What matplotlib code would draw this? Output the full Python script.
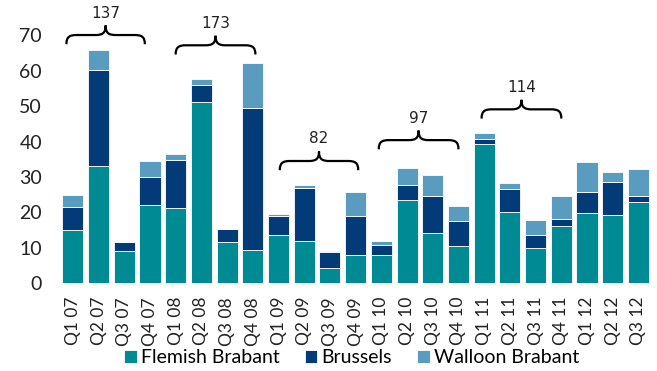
import matplotlib
matplotlib.use("Agg")
import matplotlib.pyplot as plt
import numpy as np
from matplotlib.path import Path
from matplotlib.patches import PathPatch

quarters = ["Q1 07", "Q2 07", "Q3 07", "Q4 07",
            "Q1 08", "Q2 08", "Q3 08", "Q4 08",
            "Q1 09", "Q2 09", "Q3 09", "Q4 09",
            "Q1 10", "Q2 10", "Q3 10", "Q4 10",
            "Q1 11", "Q2 11", "Q3 11", "Q4 11",
            "Q1 12", "Q2 12", "Q3 12"]
flemish = [15.0, 33.0, 9.0, 22.0,
           21.3, 51.2, 11.5, 9.3,
           13.6, 12.0, 4.3, 7.8,
           7.8, 23.6, 14.2, 10.4,
           39.3, 20.2, 9.9, 16.0,
           19.7, 19.1, 23.0]
brussels = [6.5, 27.2, 2.5, 8.0,
            13.4, 4.8, 3.7, 40.3,
            5.3, 15.0, 4.4, 11.1,
            3.0, 4.1, 10.3, 7.1,
            1.5, 6.4, 3.6, 2.1,
            6.0, 9.6, 1.6]
walloon = [3.5, 5.8, 0.0, 4.5,
           1.7, 1.6, 0.0, 12.7,
           0.6, 0.7, 0.4, 6.7,
           1.2, 4.9, 6.1, 4.3,
           1.6, 1.8, 4.4, 6.5,
           8.6, 2.8, 7.6]

# yearly totals shown above the braces
group_labels = ["137", "173", "82", "97", "114"]
group_spans = [(-0.25, 2.8), (4.0, 7.1), (8.05, 11.1), (11.9, 15.0), (15.9, 19.0)]
group_base = [67.5, 64.6, 31.9, 37.8, 46.5]

c_fl = "#008a94"
c_br = "#023b78"
c_wa = "#5a9bc0"

plt.rcParams["font.family"] = ["Lato", "DejaVu Sans"]

fig = plt.figure(figsize=(6.57, 3.71), dpi=100)
ax = fig.add_axes([0.0913, 0.237, 0.9, 0.763])

x = np.arange(len(quarters))
fl = np.array(flemish)
br = np.array(brussels)
wa = np.array(walloon)
w = 0.82
ax.bar(x, fl, w, color=c_fl, edgecolor="white", linewidth=0.6, label="Flemish Brabant")
ax.bar(x, br, w, bottom=fl, color=c_br, edgecolor="white", linewidth=0.6, label="Brussels")
ax.bar(x, wa, w, bottom=fl + br, color=c_wa, edgecolor="white", linewidth=0.6, label="Walloon Brabant")


def brace(ax, x0, x1, y0, label):
    y1 = y0 + 2.6
    y2 = y1 + 2.7
    xm = (x0 + x1) / 2
    r = 0.4
    verts = [(x0, y0),
             (x0, y0 + 0.8 * (y1 - y0)), (x0 + 0.3 * r, y1), (x0 + r, y1),
             (xm - r, y1),
             (xm - 0.3 * r, y1), (xm, y1 + 0.2 * (y2 - y1)), (xm, y2),
             (xm, y1 + 0.2 * (y2 - y1)), (xm + 0.3 * r, y1), (xm + r, y1),
             (x1 - r, y1),
             (x1 - 0.3 * r, y1), (x1, y0 + 0.8 * (y1 - y0)), (x1, y0)]
    codes = [Path.MOVETO,
             Path.CURVE4, Path.CURVE4, Path.CURVE4,
             Path.LINETO,
             Path.CURVE4, Path.CURVE4, Path.CURVE4,
             Path.CURVE4, Path.CURVE4, Path.CURVE4,
             Path.LINETO,
             Path.CURVE4, Path.CURVE4, Path.CURVE4]
    ax.add_patch(PathPatch(Path(verts, codes), fill=False, lw=1.6,
                           edgecolor="black", clip_on=False))
    ax.text(xm, y2 + 1.4, label, ha="center", va="bottom", fontsize=11,
            family="DejaVu Sans", color="#222222")


for (x0, x1), base, lab in zip(group_spans, group_base, group_labels):
    brace(ax, x0, x1, base, lab)

ax.set_xlim(-0.5, len(quarters) - 0.5)
ax.set_ylim(0, 80)
ax.set_yticks(range(0, 80, 10))
ax.set_xticks(x)
ax.set_xticklabels(quarters, rotation=90)
ax.tick_params(axis="y", length=0, pad=13, labelsize=14, labelcolor="#222222")
ax.tick_params(axis="x", length=0, pad=10, labelsize=12.5, labelcolor="#222222")
for s in ax.spines.values():
    s.set_visible(False)

fig.legend(loc="upper center", bbox_to_anchor=(0.535, 0.058), ncol=3, frameon=False,
           fontsize=14, handlelength=0.65, handleheight=0.65, handletextpad=0.2,
           columnspacing=1.3, borderpad=0, borderaxespad=0)

fig.savefig("out.png", dpi=100)
